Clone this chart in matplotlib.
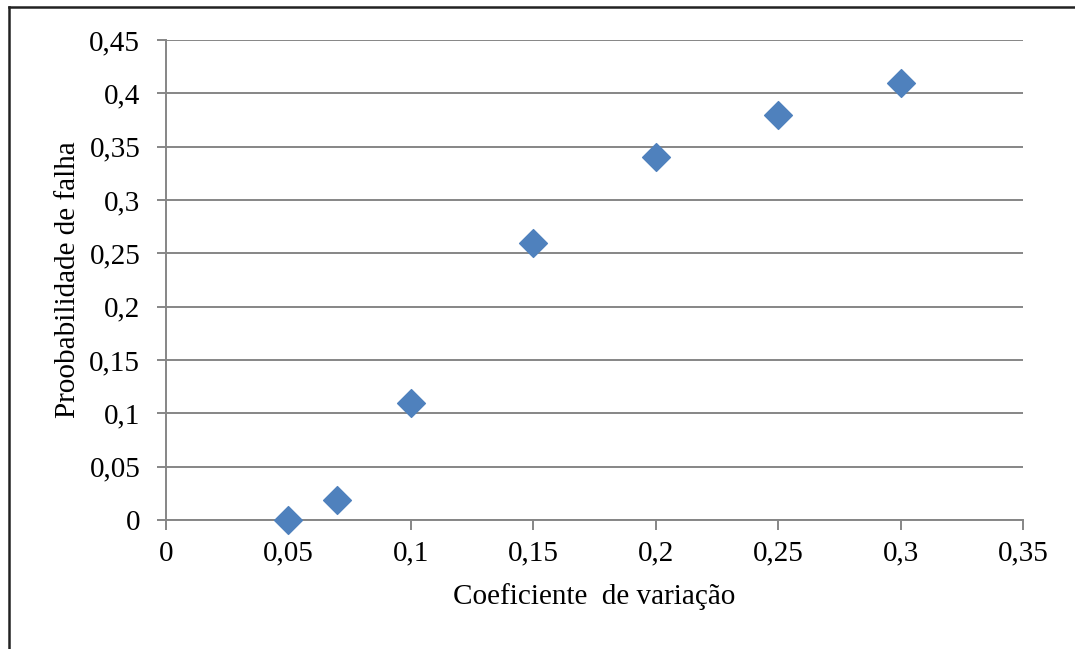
import matplotlib.pyplot as plt
from matplotlib.lines import Line2D
from matplotlib.ticker import FuncFormatter

# Coeficiente de variação vs probabilidade de falha
cv = [0.05, 0.07, 0.10, 0.15, 0.20, 0.25, 0.30]
pf = [0.0, 0.019, 0.11, 0.26, 0.34, 0.38, 0.41]

x_ticks = [0, 0.05, 0.1, 0.15, 0.2, 0.25, 0.3, 0.35]
y_ticks = [0, 0.05, 0.1, 0.15, 0.2, 0.25, 0.3, 0.35, 0.4, 0.45]

plt.rcParams['font.family'] = 'Liberation Serif'
plt.rcParams['font.size'] = 21

fig = plt.figure(figsize=(10.75, 6.49), dpi=100)
ax = fig.add_axes([0.1544, 0.1988, 0.7972, 0.7396])

grid_c = '#868686'
ax.scatter(cv, pf, marker='D', s=200, color='#4F81BD', zorder=3, clip_on=False)

ax.set_xlim(0, 0.35)
ax.set_ylim(0, 0.45)
ax.set_xticks(x_ticks)
ax.set_yticks(y_ticks)

fmt = FuncFormatter(lambda v, p: ('%g' % round(v, 2)).replace('.', ','))
ax.xaxis.set_major_formatter(fmt)
ax.yaxis.set_major_formatter(fmt)

ax.grid(axis='y', color=grid_c, linewidth=1.4)
ax.set_axisbelow(True)
for side in ['top', 'right']:
    ax.spines[side].set_visible(False)
for side in ['left', 'bottom']:
    ax.spines[side].set_color(grid_c)
    ax.spines[side].set_linewidth(1.4)

ax.tick_params(axis='y', length=6.5, width=1.4, color=grid_c, pad=12)
ax.tick_params(axis='x', length=7, width=1.4, color=grid_c, pad=8)

ax.set_xlabel('Coeficiente  de variação', labelpad=12)
ax.set_ylabel('Proobabilidade de falha', labelpad=6)

# outer frame (left and top edges)
fig.add_artist(Line2D([0.0088, 0.0088], [0, 0.989], color='#222222', linewidth=1.8))
fig.add_artist(Line2D([0.0088, 1.0], [0.989, 0.989], color='#222222', linewidth=1.8))

fig.savefig('out.png', dpi=100)
